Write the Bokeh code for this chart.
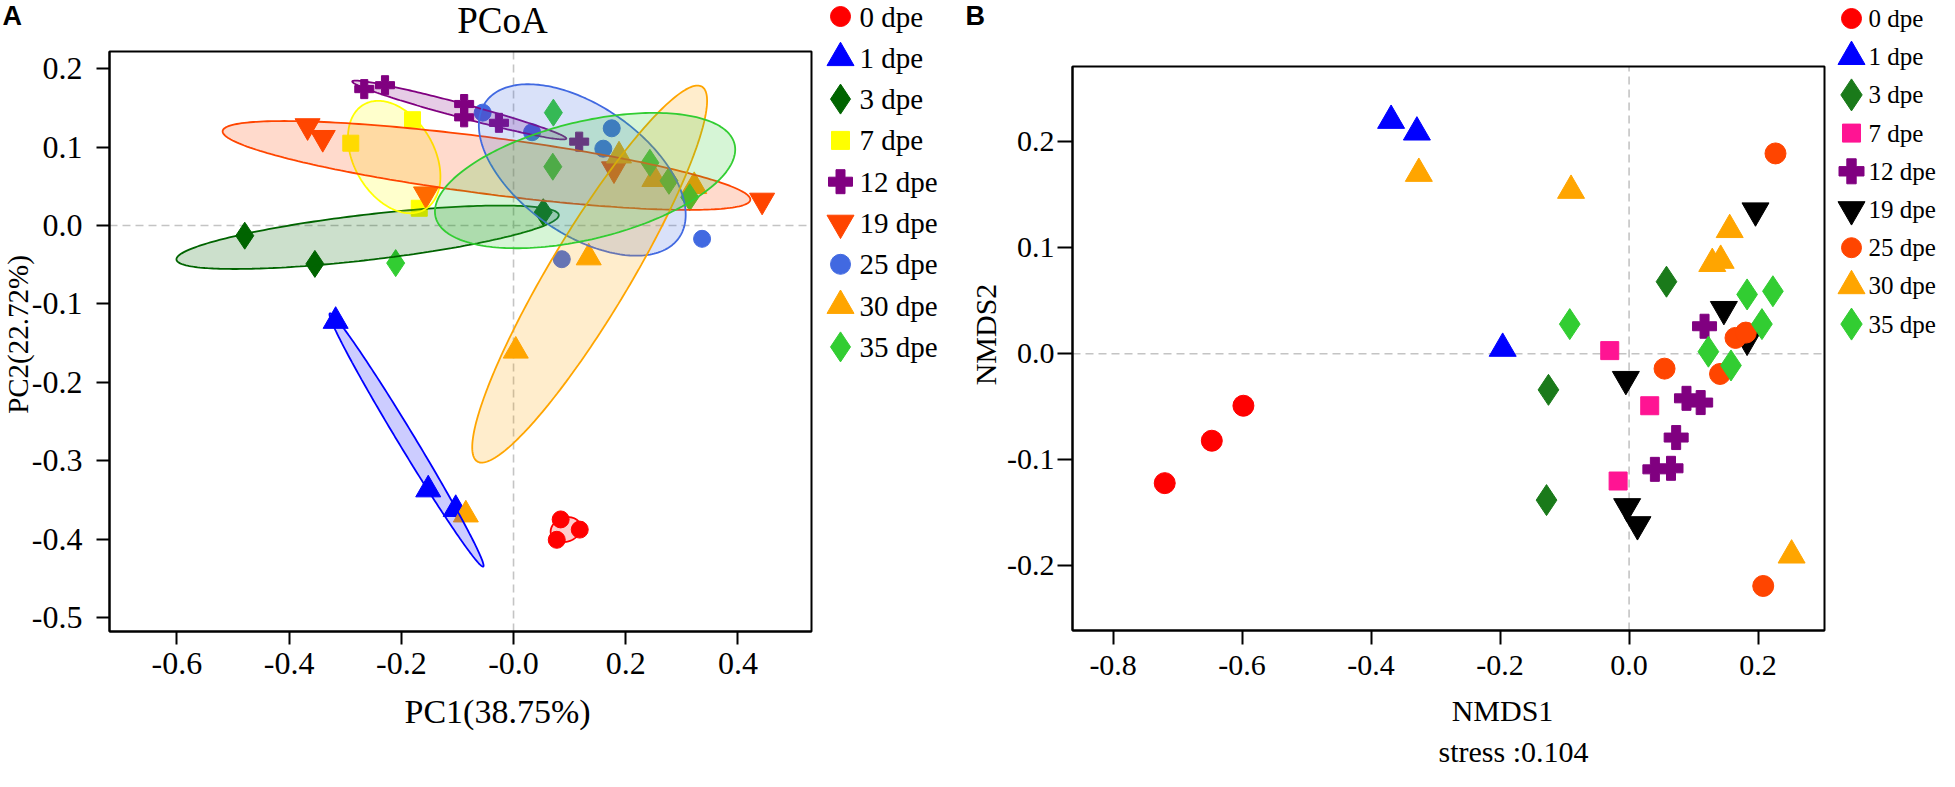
import numpy as np
from bokeh.plotting import figure
from bokeh.models import Range1d, FixedTicker, LinearAxis, Grid
from bokeh.embed import file_html
from bokeh.resources import INLINE
from bokeh.core.properties import value

# ---------------- data ----------------
groups = ["0 dpe", "1 dpe", "3 dpe", "7 dpe", "12 dpe", "19 dpe", "25 dpe", "30 dpe", "35 dpe"]

# Panel A: PCoA
pcoa_group = (["0 dpe"] * 3 + ["1 dpe"] * 3 + ["3 dpe"] * 3 + ["7 dpe"] * 3 + ["12 dpe"] * 6 +
              ["19 dpe"] * 5 + ["25 dpe"] * 6 + ["30 dpe"] * 6 + ["35 dpe"] * 6)
pcoa_pc1 = [0.084, 0.118, 0.077,
            -0.317, -0.152, -0.103,
            -0.479, -0.354, 0.053,
            -0.180, -0.290, -0.168,
            -0.266, -0.229, -0.088, -0.088, -0.026, 0.117,
            -0.367, -0.340, -0.156, 0.179, 0.443,
            -0.055, 0.033, 0.175, 0.160, 0.086, 0.336,
            0.188, 0.251, 0.322, 0.134, 0.004, -0.085,
            -0.210, 0.071, 0.070, 0.243, 0.277, 0.314]
pcoa_pc2 = [-0.375, -0.388, -0.401,
            -0.122, -0.337, -0.362,
            -0.013, -0.049, 0.017,
            0.135, 0.105, 0.022,
            0.174, 0.179, 0.155, 0.138, 0.131, 0.107,
            0.127, 0.112, 0.040, 0.072, 0.032,
            0.144, 0.119, 0.124, 0.098, -0.043, -0.017,
            0.089, 0.059, 0.050, -0.041, -0.160, -0.369,
            -0.048, 0.144, 0.075, 0.080, 0.057, 0.036]

# Panel B: NMDS
nmds_group = (["0 dpe"] * 3 + ["1 dpe"] * 3 + ["3 dpe"] * 3 + ["7 dpe"] * 3 + ["12 dpe"] * 6 +
              ["19 dpe"] * 6 + ["25 dpe"] * 6 + ["30 dpe"] * 6 + ["35 dpe"] * 6)
nmds1 = [-0.598, -0.647, -0.720,
         -0.369, -0.329, -0.196,
         0.058, -0.125, -0.128,
         -0.030, 0.032, -0.017,
         0.117, 0.089, 0.111, 0.073, 0.040, 0.065,
         0.196, 0.147, 0.183, -0.005, -0.003, 0.013,
         0.227, 0.055, 0.141, 0.165, 0.181, 0.208,
         -0.326, -0.090, 0.156, 0.129, 0.142, 0.252,
         -0.092, 0.183, 0.223, 0.206, 0.123, 0.158]
nmds2 = [-0.049, -0.082, -0.122,
         0.220, 0.209, 0.005,
         0.068, -0.034, -0.138,
         0.003, -0.049, -0.120,
         0.026, -0.042, -0.046, -0.079, -0.109, -0.108,
         0.135, 0.042, 0.013, -0.024, -0.144, -0.161,
         0.189, -0.014, -0.019, 0.015, 0.020, -0.219,
         0.170, 0.154, 0.117, 0.085, 0.088, -0.190,
         0.028, 0.056, 0.059, 0.028, 0.002, -0.011]

pcoa_xticks = [-0.6, -0.4, -0.2, 0.0, 0.2, 0.4]
pcoa_xlabels = ["-0.6", "-0.4", "-0.2", "-0.0", "0.2", "0.4"]
pcoa_yticks = [0.2, 0.1, 0.0, -0.1, -0.2, -0.3, -0.4, -0.5]
pcoa_ylabels = ["0.2", "0.1", "0.0", "-0.1", "-0.2", "-0.3", "-0.4", "-0.5"]
nmds_xticks = [-0.8, -0.6, -0.4, -0.2, 0.0, 0.2]
nmds_xlabels = ["-0.8", "-0.6", "-0.4", "-0.2", "0.0", "0.2"]
nmds_yticks = [-0.2, -0.1, 0.0, 0.1, 0.2]
nmds_ylabels = ["-0.2", "-0.1", "0.0", "0.1", "0.2"]

title_a = "PCoA"
xlabel_a = "PC1(38.75%)"
ylabel_a = "PC2(22.72%)"
xlabel_b = "NMDS1"
ylabel_b = "NMDS2"
stress_b = "stress :0.104"

# ---------------- styles ----------------
colors_a = ["#FF0000", "#0000FF", "#006400", "#FFFF00", "#800080", "#FF4500", "#4169E1", "#FFA500", "#32CD32"]
colors_b = ["#FF0000", "#0000FF", "#1A7A1A", "#FF1493", "#800080", "#000000", "#FF4500", "#FFA500", "#32CD32"]
markers = ["circle", "triangle", "diamond", "square", "plus", "inverted_triangle", "circle", "triangle", "diamond"]
size_a = {"circle": 17, "triangle": 25, "diamond": 27, "square": 16, "plus": 19, "inverted_triangle": 25}
size_b = {"circle": 21, "triangle": 27, "diamond": 31, "square": 18, "plus": 24, "inverted_triangle": 27}
leg_size_a = {"circle": 20, "triangle": 27, "diamond": 30, "square": 18, "plus": 24, "inverted_triangle": 27}
leg_size_b = {"circle": 20, "triangle": 27, "diamond": 32, "square": 18, "plus": 25, "inverted_triangle": 27}
SERIF = "Liberation Serif"
SANS = "Liberation Sans"

W, H = 1939, 771
# panel boxes in canvas pixels (left, right, top, bottom)
BOX_A = (109, 811, 51, 631)
BOX_B = (1072, 1824, 66, 630)
LIM_A = (-0.720, 0.531, -0.518, 0.222)
LIM_B = (-0.863, 0.303, -0.261, 0.271)


def map_range(vmin, vmax, pmin, pmax, total):
    s = (vmax - vmin) / (pmax - pmin)
    return Range1d(start=vmin - pmin * s, end=vmin + (total - pmin) * s)


def ellipse(xs, ys, k=1.5, n=240):
    P = np.column_stack([xs, ys])
    m = P.mean(axis=0)
    C = np.cov(P, rowvar=False, bias=True)
    vals, vecs = np.linalg.eigh(C)
    t = np.linspace(0, 2 * np.pi, n)
    U = np.vstack([np.cos(t), np.sin(t)])
    E = vecs @ (np.sqrt(np.maximum(vals, 0))[:, None] * k * U)
    return m[0] + E[0], m[1] + E[1]


p = figure(width=W, height=H, output_backend="svg", toolbar_location=None, title=None,
           x_range=Range1d(0, W), y_range=Range1d(H, 0),
           x_axis_type=None, y_axis_type=None, min_border=0)
p.outline_line_color = None
for r in list(p.center):
    if isinstance(r, Grid):
        r.visible = False

p.extra_x_ranges = {
    "ax": map_range(LIM_A[0], LIM_A[1], BOX_A[0], BOX_A[1], W),
    "bx": map_range(LIM_B[0], LIM_B[1], BOX_B[0], BOX_B[1], W),
}
p.extra_y_ranges = {
    "ay": map_range(LIM_A[2], LIM_A[3], H - BOX_A[3], H - BOX_A[2], H),
    "by": map_range(LIM_B[2], LIM_B[3], H - BOX_B[3], H - BOX_B[2], H),
}


def panel_frame(xr, yr, lim, xt, xl, yt, yl, fs, xtick_out, ytick_out, xstand, ystand):
    x0, x1, y0, y1 = lim
    # dashed zero lines
    p.segment(x0=[0.0], y0=[y0], x1=[0.0], y1=[y1], line_color="#C4C4C4", line_dash="8 5",
              line_width=1.6, x_range_name=xr, y_range_name=yr)
    p.segment(x0=[x0], y0=[0.0], x1=[x1], y1=[0.0], line_color="#C4C4C4", line_dash="8 5",
              line_width=1.6, x_range_name=xr, y_range_name=yr)
    xa = LinearAxis(x_range_name=xr, y_range_name=yr, fixed_location=y0, bounds=(x0, x1),
                    ticker=FixedTicker(ticks=xt), major_label_overrides=dict(zip(xt, xl)))
    ya = LinearAxis(x_range_name=xr, y_range_name=yr, fixed_location=x0, bounds=(y0, y1),
                    ticker=FixedTicker(ticks=yt), major_label_overrides=dict(zip(yt, yl)))
    for ax, to, st in ((xa, xtick_out, xstand), (ya, ytick_out, ystand)):
        ax.axis_line_width = 2
        ax.axis_line_color = "black"
        ax.major_tick_line_width = 2
        ax.major_tick_line_color = "black"
        ax.major_tick_out = to
        ax.major_tick_in = 0
        ax.minor_tick_line_color = None
        ax.major_label_text_font = SERIF
        ax.major_label_text_font_size = fs
        ax.major_label_text_color = "black"
        ax.major_label_standoff = st
    p.add_layout(xa, "below")
    p.add_layout(ya, "left")


def panel_box(xr, yr, lim):
    x0, x1, y0, y1 = lim
    p.quad(left=[x0], right=[x1], bottom=[y0], top=[y1], fill_color=None, line_color="black",
           line_width=2, x_range_name=xr, y_range_name=yr)


def txt(x, y, s, size, font=SERIF, bold=False, angle=0.0, align="center"):
    p.text(x=[x], y=[y], text=[s], text_font=value(font), text_font_size=size,
           text_font_style="bold" if bold else "normal", text_align=align,
           text_baseline="middle", angle=angle, text_color="black")


# ---------------- Panel A ----------------
panel_frame("ax", "ay", LIM_A, pcoa_xticks, pcoa_xlabels, pcoa_yticks, pcoa_ylabels, "32px",
            13, 13, 8, 14)
ga = np.array(pcoa_group)
xa_ = np.array(pcoa_pc1)
ya_ = np.array(pcoa_pc2)
for g, c, m in zip(groups, colors_a, markers):
    sel = ga == g
    p.scatter(xa_[sel], ya_[sel], marker=m, size=size_a[m], fill_color=c, line_color=c,
              line_width=1, x_range_name="ax", y_range_name="ay")
for g, c in zip(groups, colors_a):
    sel = ga == g
    ex, ey = ellipse(xa_[sel], ya_[sel])
    p.patch(ex, ey, fill_color=c, fill_alpha=0.2, line_color=c, line_width=1.8,
            x_range_name="ax", y_range_name="ay")
panel_box("ax", "ay", LIM_A)

txt(2, 15, "A", "27px", font=SANS, bold=True, align="left")
txt(502, 20, title_a, "37px")
txt(497, 711, xlabel_a, "34px")
txt(17, 334, ylabel_a, "29px", angle=np.pi / 2)

# ---------------- Panel B ----------------
panel_frame("bx", "by", LIM_B, nmds_xticks, nmds_xlabels, nmds_yticks, nmds_ylabels, "30px",
            14, 15, 11, 3)
gb = np.array(nmds_group)
xb_ = np.array(nmds1)
yb_ = np.array(nmds2)
for g, c, m in zip(groups, colors_b, markers):
    sel = gb == g
    p.scatter(xb_[sel], yb_[sel], marker=m, size=size_b[m], fill_color=c, line_color=c,
              line_width=1, x_range_name="bx", y_range_name="by")
panel_box("bx", "by", LIM_B)

txt(965, 15, "B", "27px", font=SANS, bold=True, align="left")
txt(1502, 710, xlabel_b, "30px")
txt(1513, 751, stress_b, "30px")
txt(985, 334, ylabel_b, "30px", angle=np.pi / 2)


# ---------------- legends ----------------
def legend(mx, tx, y0, dy, cols, sizes, fs):
    for i, (g, c, m) in enumerate(zip(groups, cols, markers)):
        yy = y0 + dy * i
        p.scatter([mx], [yy], marker=m, size=sizes[m], fill_color=c, line_color=c)
        p.text(x=[tx], y=[yy], text=[g], text_baseline="middle", text_align="left",
               text_font=value(SERIF), text_font_size=fs, text_color="black")


legend(840, 859, 16, 41.3, colors_a, leg_size_a, "29px")
legend(1851, 1868, 18, 38.2, colors_b, leg_size_b, "25px")

open("out.html", "w").write(file_html(p, INLINE))
